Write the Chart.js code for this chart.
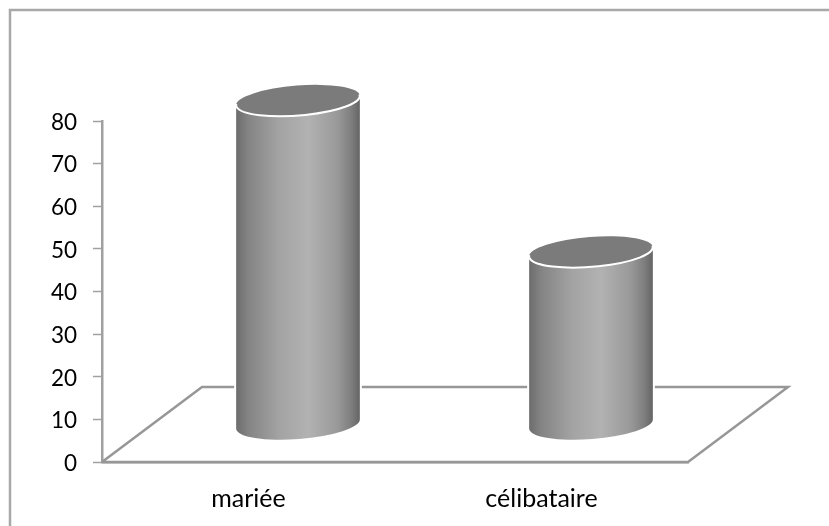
<!DOCTYPE html>
<html><head><meta charset="utf-8">
<style>html,body{margin:0;padding:0;background:#fff}#w{position:relative;width:829px;height:526px}canvas{display:block}</style>
<script src="https://cdn.jsdelivr.net/npm/chart.js@4"></script>
</head><body><div id="w"><canvas id="c" width="829" height="526"></canvas></div>
<script>
const categories = ["mariée", "célibataire"];
const values = [76, 40.5];
const yTicks = [0, 10, 20, 30, 40, 50, 60, 70, 80];

const AXIS = "#a0a0a0";
const FLOOR = "#979797";
const DEPTH_X = 100, DEPTH_Y = 75;

class CylinderController extends Chart.BarController {
  draw() {
    const ctx = this.chart.ctx;
    const TILT = -0.078, RY = 15;
    this._cachedMeta.data.forEach(bar => {
      const rx = bar.width / 2 + 0.5;
      const cx = bar.x + DEPTH_X / 2 - 0.5;
      const top = bar.y - DEPTH_Y / 2;
      const base = bar.base - DEPTH_Y / 2;
      const dx = rx * Math.cos(TILT), dy = rx * Math.sin(TILT);
      const path = () => {
        ctx.beginPath();
        ctx.moveTo(cx - dx, top - dy);
        ctx.lineTo(cx - dx, base - dy);
        ctx.ellipse(cx, base, rx, RY, TILT, Math.PI, 0, true);
        ctx.lineTo(cx + dx, top + dy);
        ctx.ellipse(cx, top, rx, RY, TILT, 0, Math.PI, false);
        ctx.closePath();
      };
      ctx.save();
      path();
      ctx.strokeStyle = "#ffffff";
      ctx.lineWidth = 4;
      ctx.stroke();
      const g = ctx.createLinearGradient(cx - rx, 0, cx + rx, 0);
      g.addColorStop(0, "#6c6c6c");
      g.addColorStop(0.1, "#848484");
      g.addColorStop(0.35, "#a3a3a3");
      g.addColorStop(0.58, "#b2b2b2");
      g.addColorStop(0.82, "#999999");
      g.addColorStop(0.93, "#7e7e7e");
      g.addColorStop(1, "#646464");
      path();
      ctx.fillStyle = g;
      ctx.fill();
      ctx.beginPath();
      ctx.ellipse(cx, top, rx, RY, TILT, 0, Math.PI * 2);
      ctx.fillStyle = "#7b7b7b";
      ctx.fill();
      ctx.beginPath();
      ctx.ellipse(cx, top, rx, RY, TILT, -0.1, Math.PI + 0.1);
      ctx.strokeStyle = "#ffffff";
      ctx.lineWidth = 2;
      ctx.stroke();
      ctx.restore();
    });
  }
}
CylinderController.id = "cylinder";
CylinderController.defaults = Chart.BarController.defaults;
CylinderController.overrides = Chart.BarController.overrides;
Chart.register(CylinderController);

const floorAndFrame = {
  id: "floorAndFrame",
  beforeDatasetsDraw(chart) {
    const { ctx, chartArea: a, scales: { y } } = chart;
    const y0 = y.getPixelForValue(0);
    ctx.save();
    ctx.strokeStyle = "#a8a8a8";
    ctx.lineWidth = 2.5;
    ctx.beginPath();
    ctx.moveTo(10, 526);
    ctx.lineTo(10, 10);
    ctx.lineTo(829, 10);
    ctx.stroke();
    ctx.strokeStyle = FLOOR;
    ctx.lineWidth = 2.5;
    ctx.lineJoin = "miter";
    ctx.beginPath();
    ctx.moveTo(a.left, y0);
    ctx.lineTo(a.left + DEPTH_X, y0 - DEPTH_Y);
    ctx.lineTo(a.right + DEPTH_X, y0 - DEPTH_Y);
    ctx.lineTo(a.right, y0);
    ctx.lineTo(a.left, y0);
    ctx.stroke();
    ctx.restore();
  }
};

new Chart(document.getElementById("c"), {
  type: "cylinder",
  data: { labels: categories, datasets: [{ data: values, clip: false, backgroundColor: "#a0a0a0" }] },
  plugins: [floorAndFrame],
  options: {
    responsive: false,
    animation: false,
    layout: { padding: { left: 0, right: 141, top: 121, bottom: 0 } },
    plugins: { legend: { display: false }, title: { display: false }, tooltip: { enabled: false } },
    datasets: { cylinder: { categoryPercentage: 1, barPercentage: 0.42 } },
    scales: {
      x: {
        type: "category",
        offset: true,
        afterFit(s) { s.height = 64; },
        grid: { display: false, drawTicks: false },
        border: { display: true, color: FLOOR, width: 2.5 },
        ticks: { color: "#000000", font: { family: "Lato", size: 25 }, padding: 22, maxRotation: 0 }
      },
      y: {
        type: "linear",
        min: 0, max: 80,
        afterFit(s) { s.width = 102; },
        afterBuildTicks(s) { s.ticks = yTicks.map(v => ({ value: v })); },
        grid: { display: true, drawOnChartArea: false, drawTicks: true, tickLength: 9, color: AXIS, tickColor: AXIS, tickWidth: 1.5 },
        border: { display: true, color: AXIS, width: 2.5 },
        ticks: { color: "#000000", font: { family: "Lato", size: 22.5 }, padding: 16, labelOffset: 1.5 }
      }
    }
  }
});
</script></body></html>
